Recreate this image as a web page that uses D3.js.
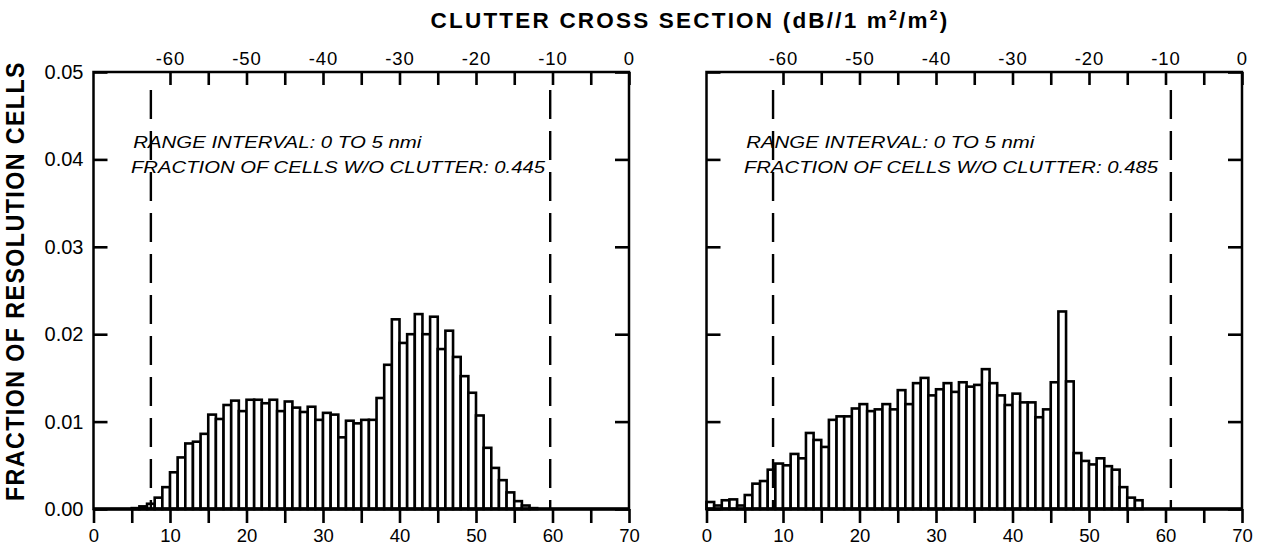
<!DOCTYPE html>
<html>
<head>
<meta charset="utf-8">
<script src="https://cdn.jsdelivr.net/npm/d3@7"></script>
<style>
  body { margin: 0; background: #fff; }
  svg { display: block; }
  text { fill: #000; }
</style>
</head>
<body>
<svg id="chart" width="1273" height="557"></svg>
<script>
// Histogram values, one bar per 1 dB bin, first bin starts at binStart.
var binStart = [5, 0];
var leftFractions = [0.0001, 0.0003, 0.0006, 0.0013, 0.0025, 0.0042, 0.0059, 0.0075, 0.0077, 0.0086,
  0.0108, 0.0103, 0.0119, 0.0124, 0.0112, 0.0125, 0.0125, 0.0121, 0.0125, 0.0112,
  0.0123, 0.0116, 0.0111, 0.0117, 0.0102, 0.0110, 0.0108, 0.0082, 0.0101, 0.0098,
  0.0102, 0.0102, 0.0127, 0.0165, 0.0217, 0.0190, 0.0200, 0.0223, 0.0200, 0.0220,
  0.0183, 0.0204, 0.0174, 0.0152, 0.0133, 0.0107, 0.0070, 0.0047, 0.0033, 0.0019,
  0.0009, 0.0004, 0.0001];
var rightFractions = [0.0008, 0.0004, 0.0010, 0.0011, 0.0004, 0.0016, 0.0029, 0.0032, 0.0045, 0.0052,
  0.0050, 0.0063, 0.0058, 0.0087, 0.0079, 0.0071, 0.0102, 0.0106, 0.0106, 0.0115,
  0.0120, 0.0112, 0.0114, 0.0120, 0.0114, 0.0136, 0.0120, 0.0144, 0.0150, 0.0130,
  0.0137, 0.0144, 0.0134, 0.0145, 0.0140, 0.0142, 0.0160, 0.0144, 0.0130, 0.0119,
  0.0132, 0.0122, 0.0122, 0.0105, 0.0114, 0.0145, 0.0226, 0.0146, 0.0064, 0.0055,
  0.0051, 0.0058, 0.0049, 0.0045, 0.0025, 0.0013, 0.0010];
var dashedAt = [[7.5, 59.7], [8.7, 60.7]];
var fractionsOfCells = ["0.445", "0.485"];
var bottomTicks = [0, 5, 10, 15, 20, 25, 30, 35, 40, 45, 50, 55, 60, 65, 70];
var topTicks = [-60, -55, -50, -45, -40, -35, -30, -25, -20, -15, -10, -5, 0];
var yTicks = [0, 0.01, 0.02, 0.03, 0.04, 0.05];

var svg = d3.select("#chart");
var font = "'Liberation Sans', Arial, sans-serif";

var panels = [
  {left: 93.5, right: 629, values: leftFractions, start: binStart[0], dashes: dashedAt[0], frac: fractionsOfCells[0], yLabels: true},
  {left: 706.5, right: 1242, values: rightFractions, start: binStart[1], dashes: dashedAt[1], frac: fractionsOfCells[1], yLabels: false}
];

var y = d3.scaleLinear().domain([0, 0.05]).range([509, 72]);

panels.forEach(function(p) {
  var x = d3.scaleLinear().domain([0, 70]).range([p.left, p.right]);
  var xTop = d3.scaleLinear().domain([-70, 0]).range([p.left, p.right]);
  var g = svg.append("g");

  // bars
  g.selectAll("rect.bar").data(p.values).join("rect")
    .attr("class", "bar")
    .attr("x", function(d, i) { return x(p.start + i); })
    .attr("width", function(d, i) { return x(p.start + i + 1) - x(p.start + i); })
    .attr("y", function(d) { return y(d); })
    .attr("height", function(d) { return y(0) - y(d); })
    .attr("fill", "#fff")
    .attr("stroke", "#000")
    .attr("stroke-width", 2.6);

  // dashed limits
  g.selectAll("line.dash").data(p.dashes).join("line")
    .attr("class", "dash")
    .attr("x1", function(d) { return x(d); })
    .attr("x2", function(d) { return x(d); })
    .attr("y1", 90).attr("y2", y(0))
    .attr("stroke", "#000").attr("stroke-width", 2.4)
    .attr("stroke-dasharray", "29,12");

  // frame
  g.append("rect")
    .attr("x", p.left).attr("y", y(0.05))
    .attr("width", p.right - p.left).attr("height", y(0) - y(0.05))
    .attr("fill", "none").attr("stroke", "#000").attr("stroke-width", 2.5);
  g.append("line")
    .attr("x1", p.left).attr("x2", p.right).attr("y1", y(0)).attr("y2", y(0))
    .attr("stroke", "#000").attr("stroke-width", 3.5);

  var bottom = g.append("g").attr("transform", "translate(0," + y(0) + ")")
    .call(d3.axisBottom(x).tickValues(bottomTicks).tickSize(14).tickPadding(6)
      .tickFormat(function(d) { return d % 10 === 0 ? d : ""; }));
  var top = g.append("g").attr("transform", "translate(0," + y(0.05) + ")")
    .call(d3.axisTop(xTop).tickValues(topTicks).tickSize(-13).tickPadding(9)
      .tickFormat(function(d) { return d % 10 === 0 ? d : ""; }));
  var leftAx = g.append("g").attr("transform", "translate(" + p.left + ",0)")
    .call(d3.axisLeft(y).tickValues(yTicks).tickSize(-14).tickPadding(10)
      .tickFormat(p.yLabels ? d3.format(".2f") : function() { return ""; }));
  var rightAx = g.append("g").attr("transform", "translate(" + p.right + ",0)")
    .call(d3.axisRight(y).tickValues(yTicks).tickSize(-14).tickFormat(function() { return ""; }));

  [bottom, top, leftAx, rightAx].forEach(function(a) {
    a.select(".domain").remove();
    a.selectAll(".tick line").attr("stroke", "#000").attr("stroke-width", 2.6);
    a.selectAll(".tick text").attr("font-family", font).attr("font-size", 18.5).attr("fill", "#000");
  });
  leftAx.selectAll(".tick text").attr("font-size", 20);
  top.selectAll(".tick text").attr("dy", "0.1em").attr("letter-spacing", 1);

  // annotation, stretched to the wide italic face of the original
  g.append("text")
    .attr("x", x(5.2)).attr("y", 148)
    .attr("font-family", font).attr("font-style", "italic").attr("font-size", 16.5)
    .attr("textLength", 288).attr("lengthAdjust", "spacingAndGlyphs")
    .text("RANGE INTERVAL: 0 TO 5 nmi");
  g.append("text")
    .attr("x", x(4.9)).attr("y", 173)
    .attr("font-family", font).attr("font-style", "italic").attr("font-size", 16.5)
    .attr("textLength", 414).attr("lengthAdjust", "spacingAndGlyphs")
    .text("FRACTION OF CELLS W/O CLUTTER: " + p.frac);
});

// titles
var title = svg.append("text")
  .attr("x", 690).attr("y", 28)
  .attr("text-anchor", "middle")
  .attr("font-family", font).attr("font-weight", "bold").attr("font-size", 22.5)
  .attr("letter-spacing", 2.2);
title.append("tspan").text("CLUTTER CROSS SECTION (dB//1 m");
title.append("tspan").attr("dy", -8).attr("font-size", 14).text("2");
title.append("tspan").attr("dy", 8).text("/m");
title.append("tspan").attr("dy", -8).attr("font-size", 14).text("2");
title.append("tspan").attr("dy", 8).text(")");

svg.append("text")
  .attr("transform", "translate(24,281) rotate(-90)")
  .attr("text-anchor", "middle")
  .attr("font-family", font).attr("font-weight", "bold").attr("font-size", 25)
  .attr("letter-spacing", 1.5)
  .attr("textLength", 440).attr("lengthAdjust", "spacingAndGlyphs")
  .text("FRACTION OF RESOLUTION CELLS");
</script>
</body>
</html>
